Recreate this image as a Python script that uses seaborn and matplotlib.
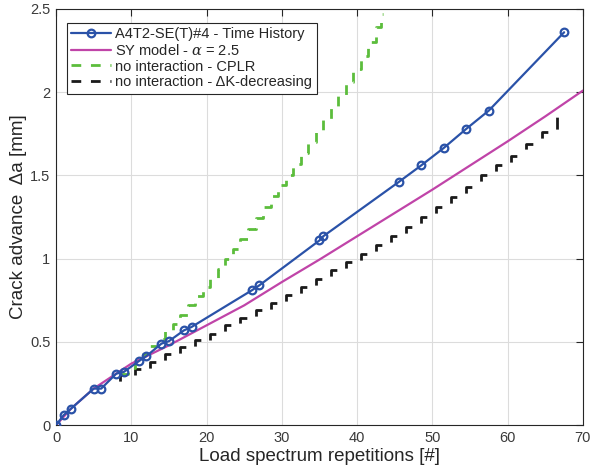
import matplotlib
matplotlib.use("Agg")
import matplotlib.pyplot as plt
from matplotlib.lines import Line2D
import seaborn as sns
import pandas as pd

# ---- data ----
test_x = [0, 1, 2, 5, 6, 8, 9, 11, 12, 14, 15, 17, 18, 26, 27, 35, 35.5,
          45.5, 48.5, 51.5, 54.5, 57.5, 67.5]
test_y = [0, 0.06, 0.10, 0.22, 0.22, 0.31, 0.32, 0.385, 0.415, 0.49, 0.505,
          0.57, 0.59, 0.81, 0.84, 1.11, 1.135, 1.46, 1.56, 1.665, 1.78, 1.89, 2.36]

sy_x = [0, 2, 5, 10, 15, 20, 25, 30, 35, 40, 45, 50, 55, 60, 65, 70]
sy_y = [0, 0.10, 0.22, 0.37, 0.48, 0.60, 0.72, 0.86, 0.995, 1.135, 1.275,
        1.415, 1.56, 1.705, 1.855, 2.01]

# CPLR staircase (x = where each jump occurs, y = level after the jump)
cplr_x = [8.5, 9.5, 10.5, 11.5, 12.5, 13.5, 14.5, 15.5, 16.5, 17.5, 18.5,
          19.5, 20.5, 21.5, 22.5, 23.5, 24.5, 25.5, 26.5, 27.5, 28.5, 29.5,
          30.5, 31.5, 32.5, 33.5, 34.5, 35.5, 36.5, 37.5, 38.5, 39.5, 40.5,
          41.5, 42.5, 43.2, 43.5]
cplr_y = [0.31, 0.345, 0.385, 0.43, 0.475, 0.52, 0.565, 0.61, 0.66, 0.72,
          0.775, 0.83, 0.885, 0.94, 1.00, 1.06, 1.12, 1.18, 1.245, 1.31,
          1.375, 1.44, 1.505, 1.57, 1.635, 1.70, 1.77, 1.84, 1.91, 1.985,
          2.06, 2.14, 2.22, 2.30, 2.39, 2.47, 2.47]

# dK-decreasing staircase (x = where each jump occurs, y = level after it)
dk_x = [6.5, 8.5, 10.5, 12.5, 14.5, 16.5, 18.5, 20.5, 22.5, 24.5, 26.5, 28.5,
        30.5, 32.5, 34.5, 36.5, 38.5, 40.5, 42.5, 44.5, 46.5, 48.5, 50.5,
        52.5, 54.5, 56.5, 58.5, 60.5, 62.5, 64.5, 66.5, 67.8]
dk_y = [0.26, 0.30, 0.34, 0.38, 0.43, 0.47, 0.51, 0.55, 0.60, 0.645, 0.69,
        0.735, 0.78, 0.83, 0.88, 0.93, 0.98, 1.03, 1.08, 1.135, 1.19, 1.25,
        1.31, 1.37, 1.43, 1.50, 1.56, 1.62, 1.69, 1.76, 1.85, 1.85]

x_ticks = [0, 10, 20, 30, 40, 50, 60, 70]
y_ticks = [0, 0.5, 1, 1.5, 2, 2.5]
y_tick_labels = ["0", "0.5", "1", "1.5", "2", "2.5"]

labels = ["A4T2-SE(T)#4 - Time History",
          r"SY model - $\alpha$ = 2.5",
          "no interaction - CPLR",
          "no interaction - ΔK-decreasing"]

# ---- styling ----
sns.set_theme(style="white")
plt.rcParams["font.family"] = ["Liberation Sans", "DejaVu Sans"]
plt.rcParams["mathtext.fontset"] = "dejavuserif"
plt.rcParams["lines.scale_dashes"] = False

fig = plt.figure(figsize=(5.9, 4.73), dpi=100)
ax = fig.add_axes([0.095, 0.101, 0.893, 0.880])

blue = "#2a52a8"
magenta = "#c044a8"
green = "#5cbd3c"
black = "#1a1a1a"

df_t = pd.DataFrame({"x": test_x, "y": test_y})
df_sy = pd.DataFrame({"x": sy_x, "y": sy_y})
df_c = pd.DataFrame({"x": cplr_x, "y": cplr_y})

# dK-decreasing staircase, one piece per step, traced flat-end -> corner -> rise
rows = []
for i in range(1, len(dk_x) - 1):
    rows.append((i, dk_x[i + 1], dk_y[i]))
    rows.append((i, dk_x[i], dk_y[i]))
    rows.append((i, dk_x[i], dk_y[i - 1]))
df_d = pd.DataFrame(rows, columns=["step", "x", "y"])

dash = (7.0, 7.0)
hook = (32.0, (8.6, 30.0))
sns.lineplot(data=df_d, x="x", y="y", units="step", ax=ax, color=black,
             lw=2.0, linestyle=hook, estimator=None, sort=False, zorder=2)
sns.lineplot(data=df_c, x="x", y="y", ax=ax, color=green, lw=2.0,
             linestyle=(0, dash), drawstyle="steps-post",
             estimator=None, zorder=2)
sns.lineplot(data=df_sy, x="x", y="y", ax=ax, color=magenta, lw=1.6,
             estimator=None, zorder=3)
sns.lineplot(data=df_t, x="x", y="y", ax=ax, color=blue, lw=1.6,
             marker="o", markersize=5.5, markerfacecolor="none",
             markeredgecolor=blue, markeredgewidth=1.6,
             estimator=None, zorder=4)

ax.set_xlim(0, 70)
ax.set_ylim(0, 2.5)
ax.set_xticks(x_ticks)
ax.set_xticklabels([str(t) for t in x_ticks])
ax.set_yticks(y_ticks)
ax.set_yticklabels(y_tick_labels)
ax.grid(True, color="#dcdcdc", lw=0.8)
ax.set_axisbelow(True)
for s in ax.spines.values():
    s.set_color("#262626")
    s.set_linewidth(0.8)
ax.tick_params(direction="in", length=5, width=0.8, colors="#262626",
               labelsize=10.5, top=True, right=True, pad=4,
               labelcolor="#3a3a3a")
ax.set_xlabel("Load spectrum repetitions [#]", fontsize=13.5, color="#262626",
              labelpad=2)
ax.set_ylabel("Crack advance  Δa [mm]", fontsize=13.5, color="#262626",
              labelpad=2)

handles = [
    Line2D([], [], color=blue, lw=1.6, marker="o", markersize=5.5,
           markerfacecolor="none", markeredgewidth=1.6),
    Line2D([], [], color=magenta, lw=1.6),
    Line2D([], [], color=green, lw=2.0, linestyle=(0, dash)),
    Line2D([], [], color=black, lw=2.0, linestyle=(0, dash)),
]
leg = ax.legend(handles, labels, loc="upper left",
                bbox_to_anchor=(0.021, 0.967), fontsize=10.5, frameon=True,
                fancybox=False, edgecolor="#262626", framealpha=1,
                handlelength=2.7, handletextpad=0.3, borderpad=0.3,
                labelspacing=0.12, borderaxespad=0)
leg.get_frame().set_linewidth(0.8)

fig.savefig("out.png", dpi=100)
